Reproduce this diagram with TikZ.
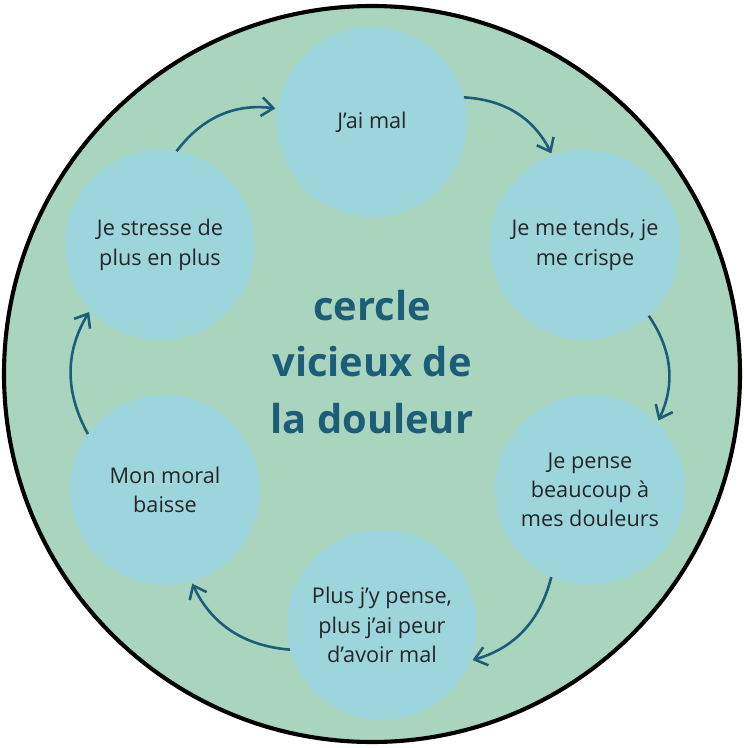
\documentclass[tikz,border=0pt]{standalone}
\usepackage{fontspec}
\setmainfont{Open Sans}
\usetikzlibrary{arrows.meta}

\definecolor{bggreen}{HTML}{A9D4BE}
\definecolor{bubble}{HTML}{9DD5DD}
\definecolor{darkteal}{HTML}{1D5D78}

\begin{document}
\begin{tikzpicture}[x=0.03cm, y=-0.03cm,
  bubblenode/.style={circle, fill=bubble, minimum size=190*0.03cm, inner sep=0pt,
    align=center, font=\fontsize{18.5}{25}\selectfont, text=black!85},
  arr/.style={-{Straight Barb[length=10pt,width=16pt]}, line width=2.2pt, draw=darkteal, shorten >=2pt}]
  \useasboundingbox (0,0) rectangle (743,748);
  % background disc
  \draw[fill=bggreen, line width=3.5pt] (372,374) circle (368);

  % the six steps
  \node[bubblenode] (jaimal)   at (372,122) {J'ai mal};
  \node[bubblenode] (tends)    at (585,245) {Je me tends, je\\me crispe};
  \node[bubblenode] (pense)    at (590,490) {Je pense\\beaucoup à\\mes douleurs};
  \node[bubblenode] (peur)     at (382,625) {Plus j'y pense,\\plus j'ai peur\\d'avoir mal};
  \node[bubblenode] (moral)    at (165,490) {Mon moral\\baisse};
  \node[bubblenode] (stresse)  at (160,245) {Je stresse de\\plus en plus};

  % title
  \node[font=\bfseries\fontsize{34}{48}\selectfont, text=darkteal, align=center] (title) at (372,362)
    {cercle\\vicieux de\\la douleur};

  % arrows
  \draw[arr] (stresse.80) to[bend left=30] (jaimal.172);
  \draw[arr] (jaimal.15) to[bend left=30] (tends.110);
  \draw[arr] (tends.-48) to[bend left=30] (pense.45);
  \draw[arr] (pense.-114) to[bend left=30] (peur.-22);
  \draw[arr] (peur.-165) to[bend left=30] (moral.-74);
  \draw[arr] (moral.144) to[bend left=30] (stresse.223);
\end{tikzpicture}
\end{document}
